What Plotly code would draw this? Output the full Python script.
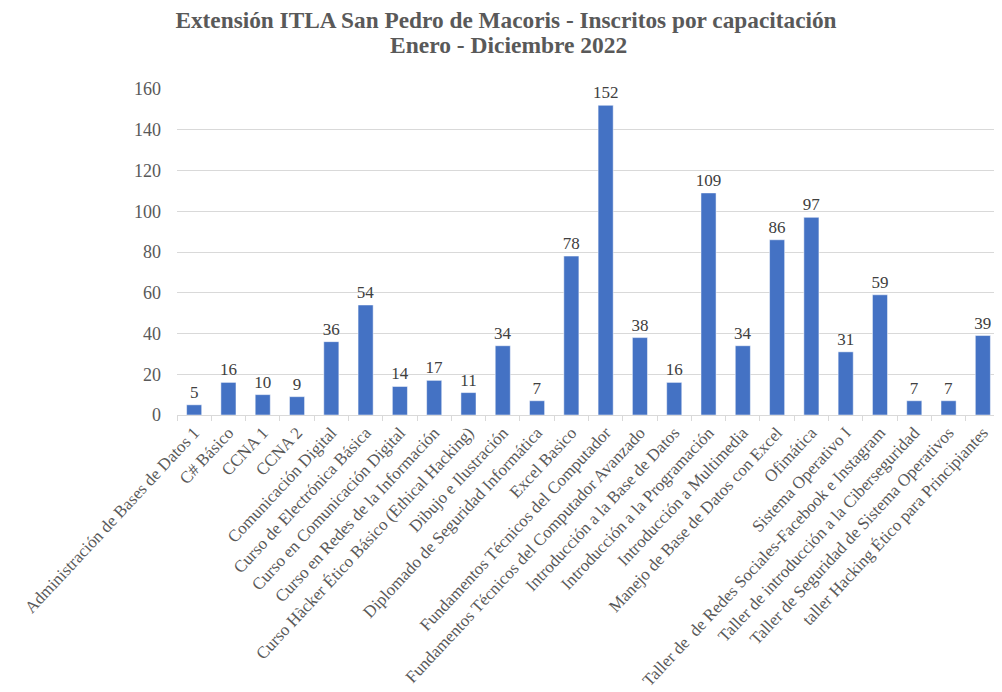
import plotly.graph_objects as go

categories = [
    "Administración de Bases de Datos 1",
    "C# Básico",
    "CCNA 1",
    "CCNA 2",
    "Comunicación Digital",
    "Curso de Electrónica Básica",
    "Curso en Comunicación Digital",
    "Curso en Redes de la Información",
    "Curso Hàcker Ético Básico (Ethical Hacking)",
    "Dibujo e Ilustración",
    "Diplomado de Seguridad Informática",
    "Excel Basico",
    "Fundamentos Técnicos del Computador",
    "Fundamentos Técnicos del Computador Avanzado",
    "Introducción a la Base de Datos",
    "Introducción a la Programación",
    "Introducción a Multimedia",
    "Manejo de Base de Datos con Excel",
    "Ofimática",
    "Sistema Operativo I",
    "Taller de  de Redes Sociales-Facebook e Instagram",
    "Taller de introducción a la Ciberseguridad",
    "Taller de Seguridad de Sistema Operativos",
    "taller Hacking Ético para Principiantes",
]
inscritos = [5, 16, 10, 9, 36, 54, 14, 17, 11, 34, 7, 78, 152, 38, 16, 109, 34, 86, 97, 31, 59, 7, 7, 39]
y_ticks = [0, 20, 40, 60, 80, 100, 120, 140, 160]

title_line1 = "Extensión ITLA San Pedro de Macoris - Inscritos por capacitación"
title_line2 = "Enero - Diciembre 2022"

serif = "Liberation Serif, Times New Roman, serif"
W, H = 994, 684
ML, MR, MT, MB = 169, 2, 81, 277
plot_w = W - ML - MR
plot_h = H - MT - MB

fig = go.Figure(
    go.Bar(
        x=categories,
        y=inscritos,
        marker=dict(color="#4472C4", line=dict(color="white", width=0.5)),
        text=[str(v) for v in inscritos],
        textposition="outside",
        constraintext="none",
        textfont=dict(family=serif, size=17, color="#404040"),
        cliponaxis=False,
    )
)

fig.update_layout(
    width=W,
    height=H,
    paper_bgcolor="white",
    plot_bgcolor="white",
    margin=dict(l=ML, r=MR, t=MT, b=MB),
    bargap=0.56,
    showlegend=False,
    title=dict(
        text=title_line1,
        x=498 / W,
        xanchor="center",
        xref="container",
        y=1 - 12 / H,
        yanchor="middle",
        yref="container",
        font=dict(family=serif, size=23.3, color="#595959", weight="bold"),
    ),
    annotations=[
        dict(
            text=title_line2,
            xref="paper",
            yref="paper",
            x=(500 - ML) / plot_w,
            xanchor="center",
            y=1 + (MT - 37) / plot_h,
            yanchor="middle",
            showarrow=False,
            font=dict(family=serif, size=23.5, color="#595959", weight="bold"),
        )
    ],
    xaxis=dict(
        type="category",
        tickangle=-47,
        tickfont=dict(family=serif, size=17, color="#595959"),
        showline=True,
        linecolor="#d9d9d9",
        linewidth=1,
        ticks="outside",
        tickson="boundaries",
        ticklen=5,
        tickcolor="#d9d9d9",
        showgrid=False,
        automargin=False,
    ),
    yaxis=dict(
        range=[0, 160],
        tickvals=y_ticks,
        tickfont=dict(family=serif, size=18, color="#595959"),
        showgrid=True,
        gridcolor="#d9d9d9",
        gridwidth=1,
        zeroline=False,
        showline=False,
        ticks="",
        ticklabelstandoff=15,
        automargin=False,
    ),
)

fig.write_html("out.html")
